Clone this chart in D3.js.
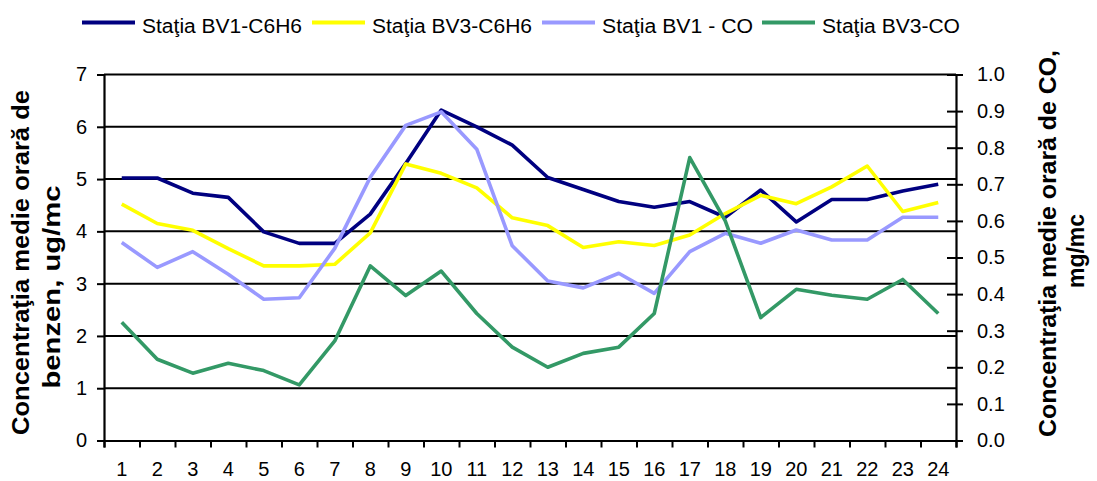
<!DOCTYPE html>
<html>
<head>
<meta charset="utf-8">
<script src="https://cdn.jsdelivr.net/npm/d3@7"></script>
<style>
body { margin: 0; background: #fff; }
text { font-family: "Liberation Sans", Arial, sans-serif; }
</style>
</head>
<body>
<div id="chart"></div>
<script>
var w = 1097,
	h = 481,
	pLeft = 104,
	pRight = 956,
	pTop = 74.5,
	pBottom = 440.5;

// hours of the day
var hours = d3.range(1, 25).map(String);

// benzen, ug/mc (left axis)
var bv1C6H6 = [5.02, 5.02, 4.73, 4.65, 3.99, 3.77, 3.77, 4.33, 5.3, 6.32, 6.0, 5.65,
	5.03, 4.8, 4.57, 4.46, 4.57, 4.27, 4.79, 4.18, 4.61, 4.61, 4.77, 4.9];
var bv3C6H6 = [4.52, 4.15, 4.02, 3.67, 3.34, 3.34, 3.37, 3.97, 5.29, 5.11, 4.83, 4.26,
	4.11, 3.69, 3.8, 3.73, 3.93, 4.34, 4.69, 4.53, 4.85, 5.25, 4.38, 4.55];
// CO, mg/mc (right axis)
var bv1CO = [0.541, 0.473, 0.516, 0.454, 0.386, 0.39, 0.525, 0.719, 0.861, 0.898, 0.796, 0.532,
	0.436, 0.417, 0.457, 0.402, 0.516, 0.566, 0.539, 0.575, 0.548, 0.548, 0.61, 0.61];
var bv3CO = [0.323, 0.222, 0.184, 0.211, 0.191, 0.152, 0.272, 0.477, 0.396, 0.463, 0.347, 0.255,
	0.2, 0.238, 0.255, 0.347, 0.773, 0.6, 0.336, 0.413, 0.397, 0.386, 0.44, 0.347];

var leftTicks = [0, 1, 2, 3, 4, 5, 6, 7];
var rightTicks = [0, 0.1, 0.2, 0.3, 0.4, 0.5, 0.6, 0.7, 0.8, 0.9, 1.0];

var series = [
	{ name: 'Staţia BV1-C6H6', values: bv1C6H6, axis: 'l', color: '#000080', lx: 82, tw: 160 },
	{ name: 'Staţia BV3-C6H6', values: bv3C6H6, axis: 'l', color: '#ffff00', lx: 312, tw: 160 },
	{ name: 'Staţia BV1 - CO', values: bv1CO, axis: 'r', color: '#9999ff', lx: 542, tw: 151 },
	{ name: 'Staţia BV3-CO', values: bv3CO, axis: 'r', color: '#339966', lx: 762, tw: 138 }
];

var svg = d3.select('#chart').append('svg')
	.attr('width', w)
	.attr('height', h);

var x = d3.scaleBand().domain(hours).range([pLeft, pRight]).padding(0);
var xb = d3.scaleLinear().domain([0, 24]).range([pLeft, pRight]);
var yl = d3.scaleLinear().domain([0, 7]).range([pBottom, pTop]);
var yr = d3.scaleLinear().domain([0, 1]).range([pBottom, pTop]);

// gridlines
svg.append('g')
	.selectAll('line')
	.data(leftTicks.slice(1))
	.enter().append('line')
	.attr('x1', pLeft).attr('x2', pRight)
	.attr('y1', function(d) { return yl(d) })
	.attr('y2', function(d) { return yl(d) })
	.style('stroke', '#000')
	.style('stroke-width', 2);

// left axis
var gl = svg.append('g')
	.attr('transform', 'translate(' + pLeft + ',0)')
	.call(d3.axisLeft(yl).tickValues(leftTicks).tickSize(7).tickPadding(10).tickFormat(d3.format('d')));

// right axis, ticks cross the line
var gr = svg.append('g')
	.attr('transform', 'translate(' + pRight + ',0)')
	.call(d3.axisRight(yr).tickValues(rightTicks).tickSize(7).tickPadding(14).tickFormat(d3.format('.1f')));
gr.selectAll('.tick line').attr('x1', -9);

// bottom axis: ticks at boundaries, labels at centres
var gb = svg.append('g')
	.attr('transform', 'translate(0,' + pBottom + ')')
	.call(d3.axisBottom(xb).tickValues(d3.range(0, 25)).tickSize(7).tickFormat(''));
var gbl = svg.append('g')
	.attr('transform', 'translate(0,' + pBottom + ')')
	.call(d3.axisBottom(x).tickSize(0).tickPadding(21));
gbl.select('.domain').remove();

[gl, gr, gb].forEach(function(g) {
	g.select('.domain').style('stroke', '#000').style('stroke-width', 2.2);
	g.selectAll('.tick line').style('stroke', '#000').style('stroke-width', 2);
});
[gl, gr, gbl].forEach(function(g) {
	g.selectAll('.tick text')
		.style('font-family', '"Liberation Sans", Arial, sans-serif')
		.style('font-size', '20px')
		.style('fill', '#000');
});

// lines
series.forEach(function(s) {
	var ys = s.axis == 'l' ? yl : yr;
	var line = d3.line()
		.x(function(d, i) { return x(hours[i]) + x.bandwidth() / 2 })
		.y(function(d) { return ys(d) });
	svg.append('path')
		.datum(s.values)
		.attr('d', line)
		.style('fill', 'none')
		.style('stroke', s.color)
		.style('stroke-width', 3.6)
		.style('stroke-linejoin', 'round');
});

// legend
var lg = svg.append('g').selectAll('g')
	.data(series)
	.enter().append('g')
	.attr('transform', function(d) { return 'translate(' + d.lx + ',22.5)' });
lg.append('line')
	.attr('x1', 0).attr('x2', 53)
	.style('stroke', function(d) { return d.color })
	.style('stroke-width', 4);
lg.append('text')
	.attr('x', 60)
	.attr('y', 3)
	.attr('dy', '0.35em')
	.attr('textLength', function(d) { return d.tw })
	.attr('lengthAdjust', 'spacingAndGlyphs')
	.style('font-size', '20px')
	.text(function(d) { return d.name });

// axis titles
var tl = svg.append('text')
	.attr('transform', 'rotate(-90)')
	.attr('text-anchor', 'middle')
	.style('font-size', '23px')
	.style('font-weight', 'bold');
tl.append('tspan').attr('x', -262.5).attr('y', 29)
	.attr('textLength', 345).attr('lengthAdjust', 'spacingAndGlyphs')
	.text('Concentraţia medie orară de');
tl.append('tspan').attr('x', -287).attr('y', 60)
	.attr('textLength', 203).attr('lengthAdjust', 'spacingAndGlyphs')
	.text('benzen, ug/mc');

var tr = svg.append('text')
	.attr('transform', 'rotate(-90)')
	.attr('text-anchor', 'middle')
	.style('font-size', '23px')
	.style('font-weight', 'bold');
tr.append('tspan').attr('x', -243.5).attr('y', 1056)
	.attr('textLength', 387).attr('lengthAdjust', 'spacingAndGlyphs')
	.text('Concentraţia medie orară de CO,');
tr.append('tspan').attr('x', -251).attr('y', 1084)
	.text('mg/mc');
</script>
</body>
</html>
